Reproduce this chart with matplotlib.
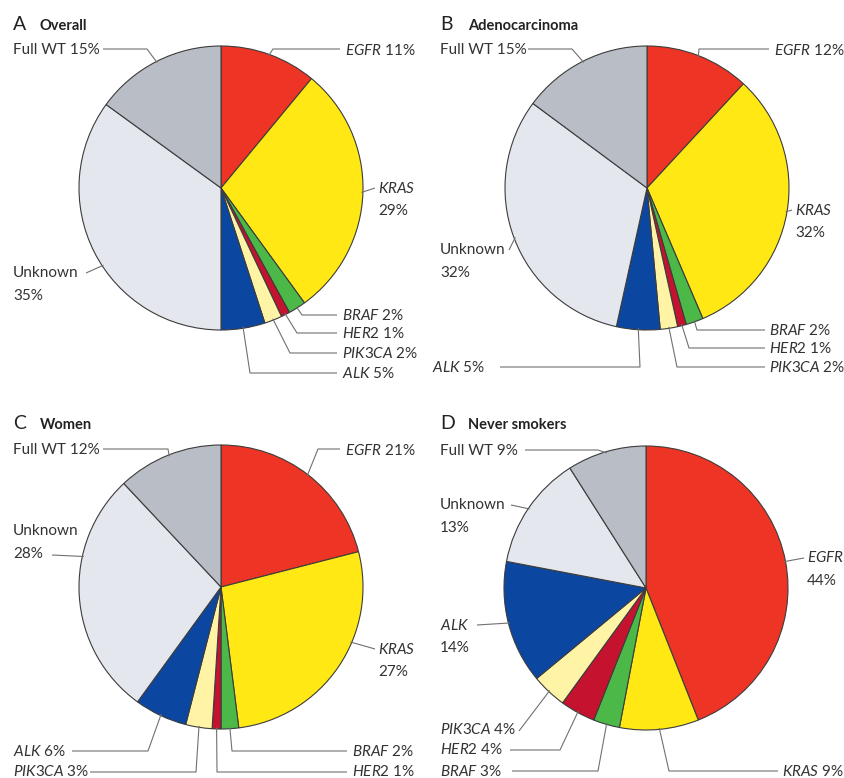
import numpy as np
import matplotlib
matplotlib.use("Agg")
import matplotlib.pyplot as plt

plt.rcParams['font.family'] = ['Lato', 'DejaVu Sans']
plt.rcParams['mathtext.fontset'] = 'custom'
plt.rcParams['mathtext.it'] = 'Lato:italic'
plt.rcParams['mathtext.rm'] = 'Lato'

# segments, clockwise from 12 o'clock
categories = ["EGFR", "KRAS", "BRAF", "HER2", "PIK3CA", "ALK", "Unknown", "Full WT"]
genes = {"EGFR", "KRAS", "BRAF", "HER2", "PIK3CA", "ALK"}
colors = ["#ee3424", "#ffe814", "#4cb848", "#c4122f", "#fff3a6", "#0b47a1",
          "#e4e7ee", "#b9bdc5"]

overall = [11, 29, 2, 1, 2, 5, 35, 15]
adeno = [12, 32, 2, 1, 2, 5, 32, 15]
women = [21, 27, 2, 1, 3, 6, 28, 12]
never_smokers = [44, 9, 3, 4, 4, 14, 13, 9]

W, H = 844, 778
R = 142
TXT = "#333333"
LEAD = "#707070"

# label layout in pixels from the top-left: text x, text y, leader points, position in wedge
panels = [
    dict(letter="A", title="Overall", values=overall, center=(221, 188), tx=(13, 40), ty=30,
         two_line={"KRAS", "Unknown"},
         labels={
             "Full WT": (13, 50, [(103, 49), (147, 49)], 0.5),
             "EGFR": (345, 50, [(340, 49), (273, 49)], 0.5),
             "KRAS": (378, 188, [(375, 188)], 0.5),
             "Unknown": (13, 273, [(86, 273)], 0.45),
             "BRAF": (342, 315, [(337, 315), (302, 315)], 0.5),
             "HER2": (342, 333, [(337, 333), (297, 333)], 0.5),
             "PIK3CA": (342, 353, [(337, 353), (290, 353)], 0.5),
             "ALK": (342, 373, [(337, 373), (250, 373)], 0.5),
         }),
    dict(letter="B", title="Adenocarcinoma", values=adeno, center=(647, 188), tx=(440, 468),
         ty=30, two_line={"KRAS", "Unknown"},
         labels={
             "Full WT": (440, 50, [(528, 49), (572, 49)], 0.5),
             "EGFR": (774, 50, [(769, 49), (699, 49)], 0.5),
             "KRAS": (795, 210, [(792, 210)], 0.5),
             "Unknown": (440, 250, [(509, 250)], 0.5),
             "BRAF": (769, 330, [(765, 330), (697, 330)], 0.5),
             "HER2": (769, 348, [(765, 348), (689, 348)], 0.5),
             "PIK3CA": (769, 367, [(765, 367), (677, 367)], 0.5),
             "ALK": (432, 367, [(500, 367), (640, 367)], 0.5),
         }),
    dict(letter="C", title="Women", values=women, center=(221, 587), tx=(13, 40), ty=429,
         two_line={"KRAS", "Unknown"},
         labels={
             "Full WT": (13, 450, [(103, 449), (168, 449)], 0.5),
             "EGFR": (345, 450, [(340, 449), (318, 449)], 0.5),
             "KRAS": (378, 649, [(375, 649)], 0.385),
             "Unknown": (13, 531, [(52, 555)], 0.66),
             "BRAF": (352, 751, [(347, 751), (232, 751)], 0.5),
             "HER2": (352, 772, [(347, 772), (217, 772)], 0.5),
             "PIK3CA": (13, 772, [(90, 772), (196, 772)], 0.5),
             "ALK": (13, 751, [(72, 751), (148, 751)], 0.5),
         }),
    dict(letter="D", title="Never smokers", values=never_smokers, center=(646, 588),
         tx=(440, 468), ty=429, two_line={"EGFR", "Unknown", "ALK"},
         labels={
             "Full WT": (440, 451, [(525, 450), (598, 450)], 0.5),
             "EGFR": (807, 558, [(804, 558)], 0.5),
             "KRAS": (782, 771, [(778, 771), (669, 771)], 0.5),
             "Unknown": (440, 505, [(511, 505)], 0.5),
             "BRAF": (440, 771, [(512, 771), (598, 771)], 0.5),
             "HER2": (440, 750, [(510, 750), (560, 750)], 0.5),
             "PIK3CA": (440, 730, [(519, 731)], 0.5),
             "ALK": (440, 625, [(477, 625)], 0.5),
         }),
]


def fmt_name(name):
    return "$\\it{" + name + "}$" if name in genes else name


fig = plt.figure(figsize=(W / 100, H / 100), dpi=100)
ax = fig.add_axes([0, 0, 1, 1])

for p in panels:
    cx, cy = p["center"]
    wedges, _ = ax.pie(p["values"], colors=colors, startangle=90, counterclock=False,
                       center=(cx, H - cy), radius=R,
                       wedgeprops=dict(edgecolor="#3c3c3c", linewidth=0.8))

    ax.text(p["tx"][0], H - p["ty"], p["letter"], fontsize=14, color="#222222",
            va="baseline", ha="left")
    ax.text(p["tx"][1], H - p["ty"], p["title"], fontsize=10.5, fontweight="bold",
            color="#222222", va="baseline", ha="left")

    for name, val, w in zip(categories, p["values"], wedges):
        tx, ty, pts, frac = p["labels"][name]
        if name in p["two_line"]:
            ax.text(tx, H - ty, fmt_name(name), fontsize=11, color=TXT,
                    ha="left", va="center")
            ax.text(tx, H - ty - 23, f"{val}%", fontsize=11, color=TXT,
                    ha="left", va="center")
        else:
            ax.text(tx, H - ty, f"{fmt_name(name)} {val}%", fontsize=11, color=TXT,
                    ha="left", va="center")
        # leader from the label to the rim of its wedge
        ang = np.radians(w.theta2 - frac * (w.theta2 - w.theta1))
        rim = (cx + 0.99 * R * np.cos(ang), H - cy + 0.99 * R * np.sin(ang))
        xs = [x for x, _ in pts] + [rim[0]]
        ys = [H - y for _, y in pts] + [rim[1]]
        ax.plot(xs, ys, color=LEAD, lw=0.8, solid_capstyle="butt")

ax.set_xlim(0, W)
ax.set_ylim(0, H)
ax.set_aspect("equal")
ax.axis("off")
fig.savefig("out.png", dpi=100, facecolor="white")
